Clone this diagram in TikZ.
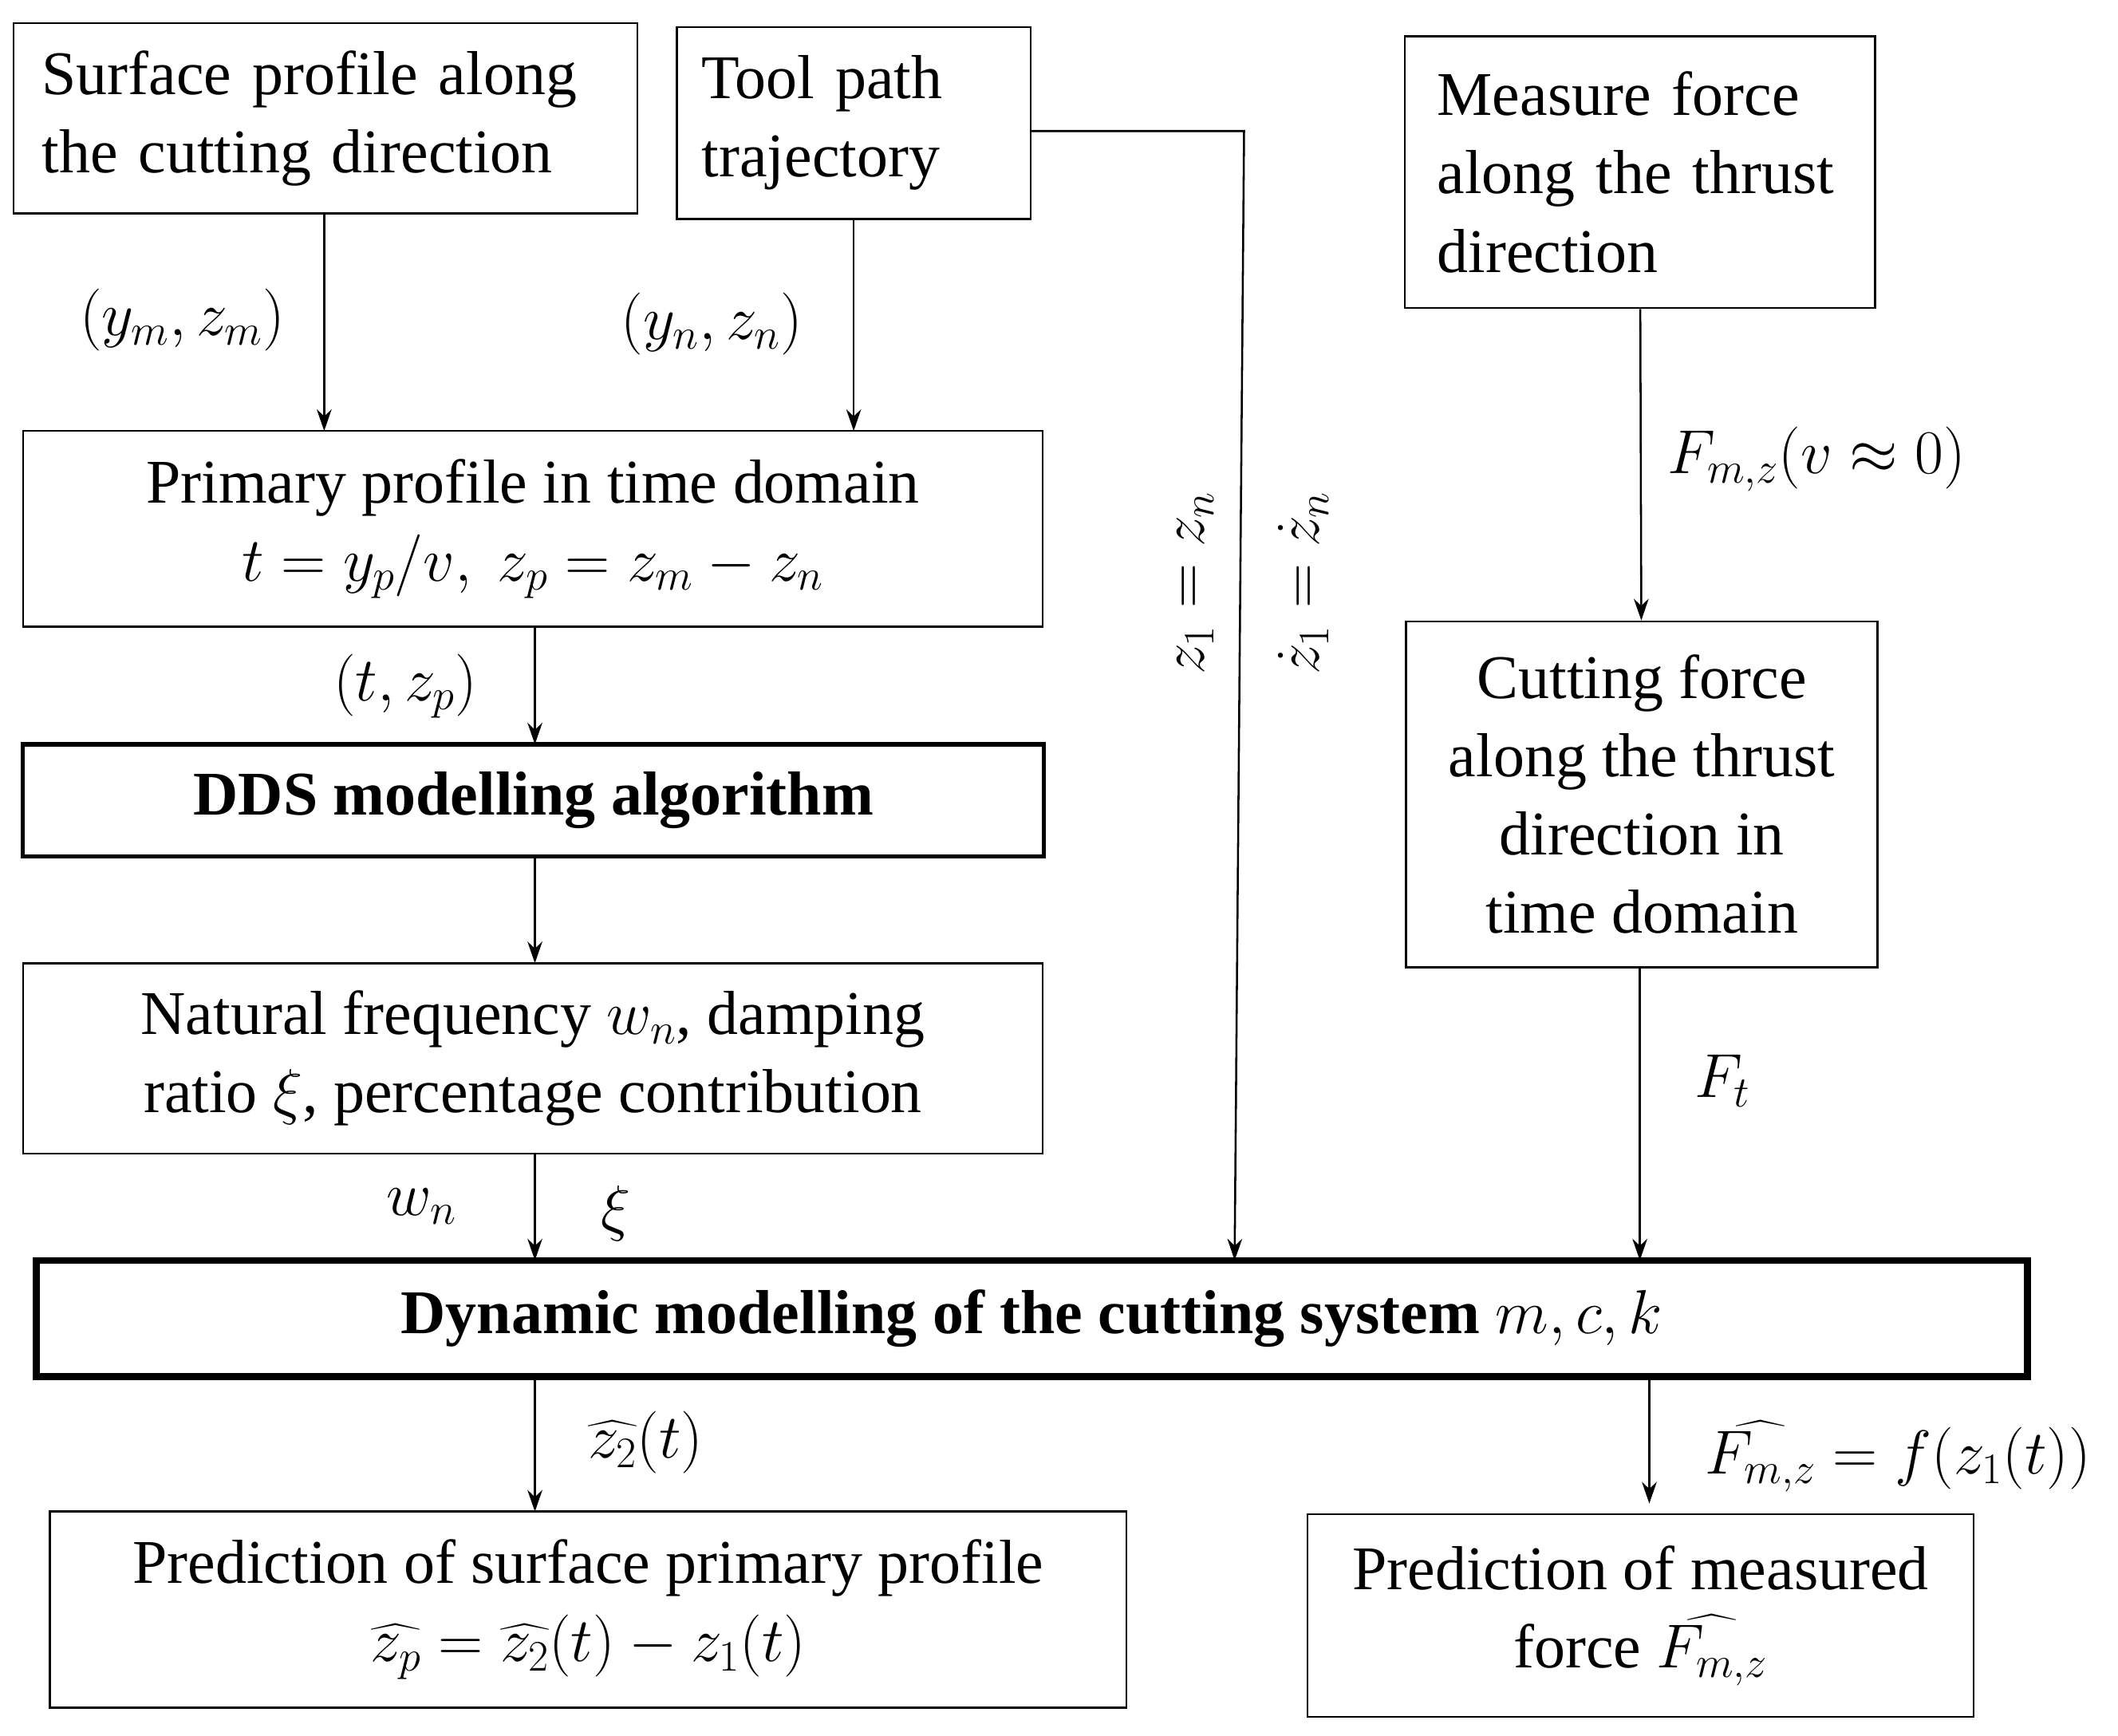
\RequirePackage{fix-cm}
\documentclass[tikz,border=0pt]{standalone}
\usepackage{amsmath}
\usepackage{fontspec}
\setmainfont{Liberation Serif}
\usetikzlibrary{arrows.meta}
\begin{document}
\begin{tikzpicture}[x=1pt,y=-1pt,
  box/.style={draw,line width=1.5pt,inner sep=0pt,align=center,font=\fontsize{46}{58}\selectfont},
  lbox/.style={box,draw=none,align=left,text width=#1},
  arr/.style={line width=1.5pt,-{Stealth[length=16pt,width=11pt]}},
  lab/.style={font=\fontsize{46}{56}\selectfont}]
\useasboundingbox (0,0) rectangle (1568,1285);
\node[box,minimum width=462pt,minimum height=141pt] (sp) at (241,87.5) {};
\node[lbox=420pt] (spt) at (sp) {Surface profile along\\the cutting direction};
\node[box,minimum width=262pt,minimum height=142pt] (tp) at (632,91) {};
\node[lbox=225pt] (tpt) at (tp) {Tool path\\trajectory};
\node[box,minimum width=348pt,minimum height=201pt] (mf) at (1214,127.5) {};
\node[lbox=300pt] (mft) at (mf) {Measure force\\along the thrust\\direction};
\node[box,minimum width=755pt,minimum height=145pt] (pp) at (394.5,391.5) {Primary profile in time domain\\$t=y_p/v,\ z_p=z_m-z_n$};
\node[box,line width=3pt,minimum width=756pt,minimum height=83pt,font=\fontsize{46}{58}\selectfont\bfseries] (dds) at (395,592.5) {DDS modelling algorithm};
\node[box,minimum width=755pt,minimum height=141pt] (nf) at (394.5,783.5) {Natural frequency $w_n$,\ damping\\ratio $\xi$, percentage contribution};
\node[box,minimum width=349pt,minimum height=256pt] (cf) at (1215.5,588) {Cutting force\\along the thrust\\direction in\\time domain};
\node[box,line width=5pt,minimum width=1474pt,minimum height=86pt] (dyn) at (764,976) {\textbf{Dynamic modelling of the cutting system} $m,c,k$};
\node[box,minimum width=797pt,minimum height=145pt] (ps) at (435.5,1191.5) {Prediction of surface primary profile\\$\widehat{z_p}=\widehat{z_2}(t)-z_1(t)$};
\node[box,minimum width=493pt,minimum height=150pt] (pf) at (1214.5,1196) {Prediction of measured\\force $\widehat{F_{m,z}}$};
\coordinate (c1) at (921,97);
\draw[arr] (240,158) -- (240,319);
\node[lab] at (135,237) {$(y_m,z_m)$};
\draw[arr] (632,162) -- (632,319);
\node[lab] at (527,240) {$(y_n,z_n)$};
\draw[arr] (763,97) -- (c1) -- (914,933);
\node[lab,rotate=90] at (885,432) {$z_1=z_n$};
\node[lab,rotate=90] at (965,432) {$\dot z_1=\dot z_n$};
\draw[arr] (mf) -- (cf);
\node[lab] at (1345,340) {$F_{m,z}(v\approx 0)$};
\draw[arr] (396,464) -- (396,551);
\node[lab] at (300,508) {$(t,z_p)$};
\draw[arr] (396,634) -- (396,713);
\draw[arr] (396,854) -- (396,933);
\node[lab] at (312,893) {$w_n$};
\node[lab] at (456,898) {$\xi$};
\draw[arr] (1214,716) -- (1214,933);
\node[lab] at (1275,800) {$F_t$};
\draw[arr] (396,1019) -- (396,1119);
\node[lab] at (478,1068) {$\widehat{z_2}(t)$};
\draw[arr] (1221,1019) -- (1221,1113);
\node[lab] at (1405,1078) {$\widehat{F_{m,z}}=f(z_1(t))$};
\end{tikzpicture}
\end{document}
